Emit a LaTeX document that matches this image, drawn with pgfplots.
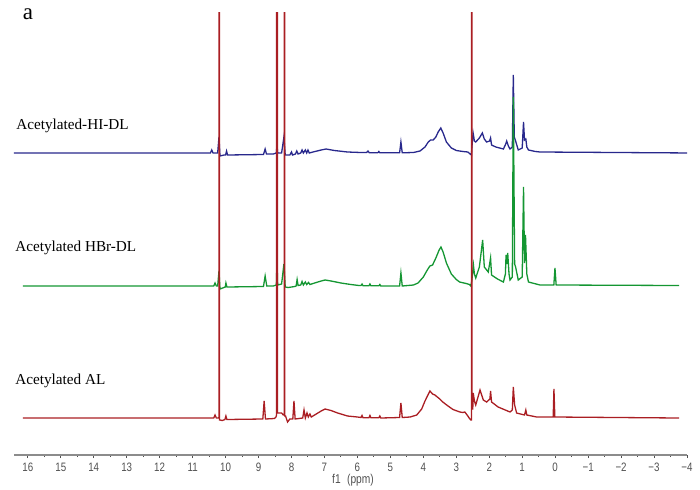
\documentclass[border=0pt]{standalone}
\usepackage{fontspec}
\setmainfont{Liberation Serif}
\newfontfamily\tickfont{Liberation Sans}[FakeStretch=0.8]
\usepackage{pgfplots}
\pgfplotsset{compat=1.18}
\definecolor{cblue}{RGB}{40,40,140}
\definecolor{cgreen}{RGB}{20,150,50}
\definecolor{cred}{RGB}{170,30,35}
\definecolor{caxis}{RGB}{140,140,140}
\definecolor{ctick}{RGB}{80,80,80}
\begin{document}
\begin{tikzpicture}
\path[use as bounding box] (0,0) rectangle (350pt,244.5pt);
\begin{axis}[
  at={(7pt,17pt)}, anchor=south west,
  scale only axis, width=336.5pt, height=221.5pt,
  xmin=-4, xmax=16.42, ymin=34, ymax=477,
  x dir=reverse,
  axis y line=none, axis x line*=bottom,
  axis line style={-, draw=caxis, line width=0.6pt},
  xtick={-4,...,16},
  xticklabels={−4,−3,−2,−1,0,1,2,3,4,5,6,7,8,9,10,11,12,13,14,15,16},
  minor x tick num=1,
  tick align=outside, tick pos=bottom,
  major tick length=1.6pt, minor tick length=1.1pt,
  every tick/.style={draw=ctick, line width=0.5pt},
  xticklabel style={font=\tickfont\fontsize{6.1}{6}\selectfont, text=ctick, inner sep=1pt, yshift=-1.2pt},
  clip=true,
]
\addplot[cblue, line width=0.65pt] coordinates {
(16.42,336) (10.46,336) (10.42,339) (10.38,336) (10.24,336) (10.20,352) (10.17,333) (10.05,334) (10.0,334) (9.97,338) (9.94,334) (8.85,334.5) (8.80,340) (8.76,335) (8.55,335) (8.46,336) (8.44,345) (8.42,336) (8.30,336) (8.23,352) (8.19,334) (8.05,334) (8.00,337) (7.97,334) (7.88,335) (7.84,338) (7.80,335) (7.72,336) (7.68,339) (7.64,336) (7.58,339) (7.54,336) (7.50,339) (7.46,336) (7.35,337) (7.1,339) (6.95,340) (6.7,338.5) (6.3,337) (5.9,336.5) (5.72,336.5) (5.68,338) (5.64,336.3) (5.38,336.3) (5.35,337.5) (5.32,336.2) (4.72,336.2) (4.68,347) (4.64,336.2) (4.3,336.5) (4.1,338) (3.95,342) (3.85,347) (3.78,349) (3.70,349) (3.62,352) (3.55,357) (3.47,361) (3.40,356) (3.30,347) (3.15,341) (3.0,338.5) (2.8,337.5) (2.65,337) (2.58,335) (2.54,334) (2.53,340) (2.49,356) (2.45,348) (2.41,347) (2.30,351) (2.21,356) (2.15,350) (2.08,347) (1.99,348) (1.96,351) (1.93,344) (1.80,342) (1.57,340) (1.50,345) (1.47,348) (1.42,343) (1.37,340) (1.30,342) (1.27,414) (1.24,352) (1.20,348) (1.12,339) (1.00,341) (0.96,367) (0.93,349) (0.89,350) (0.86,342) (0.81,339) (0.6,337.5) (0.46,337) (-4.2,336)
};
\addplot[cgreen, line width=0.65pt] coordinates {
(16.15,203) (10.36,203) (10.32,206) (10.28,203) (10.24,203) (10.20,218) (10.17,200) (10.05,201.5) (10.01,202) (9.99,206) (9.96,202) (8.85,202.5) (8.80,213) (8.75,203) (8.55,203) (8.46,204) (8.44,230) (8.42,204) (8.30,205) (8.23,225) (8.19,202) (8.10,201.5) (7.9,202.5) (7.86,203) (7.83,209.5) (7.80,203.5) (7.72,204) (7.68,207.5) (7.64,204) (7.58,207) (7.54,204.5) (7.48,206.5) (7.44,204.5) (7.3,206) (7.1,208) (6.98,209) (6.8,208) (6.5,206) (6.2,204.5) (5.95,203.5) (5.89,203.5) (5.86,205) (5.83,203.3) (5.65,203.3) (5.62,205) (5.59,203.2) (5.35,203.2) (5.32,204.5) (5.29,203) (4.72,203) (4.68,216) (4.64,203) (4.3,204) (4.16,206) (4.0,212) (3.88,219) (3.80,223) (3.72,224) (3.62,231) (3.52,239) (3.465,242) (3.40,237) (3.30,226) (3.15,215) (3.0,209.5) (2.9,207) (2.7,205.5) (2.6,204.5) (2.56,203) (2.53,208) (2.48,224) (2.45,215) (2.41,211) (2.30,222) (2.20,249) (2.15,222) (2.03,217) (1.96,231) (1.93,214) (1.75,210) (1.57,207) (1.51,215) (1.49,234) (1.46,225) (1.44,236) (1.40,215) (1.37,209) (1.30,212) (1.27,392) (1.23,225) (1.20,222) (1.12,209) (1.00,212) (0.96,302) (0.93,226) (0.90,254) (0.86,215) (0.81,207) (0.46,204) (0.04,204) (0.006,221) (-0.03,204) (-3.76,203.5)
};
\addplot[cred, line width=0.65pt] coordinates {
(16.15,71) (10.36,71) (10.32,74) (10.28,71) (10.22,71) (10.198,72) (10.198,490) (10.186,490) (10.186,69) (10.17,69) (10.1,68.5) (10.02,69.5) (9.99,73) (9.96,69.5) (8.87,70) (8.83,88) (8.79,70) (8.52,70.5) (8.47,72) (8.455,74) (8.455,490) (8.425,490) (8.425,76) (8.41,76) (8.30,76) (8.25,74) (8.222,74) (8.222,490) (8.203,490) (8.203,73) (8.18,73) (8.12,67) (8.05,70) (7.96,70) (7.925,88) (7.89,70) (7.66,71) (7.62,79) (7.58,71) (7.53,76) (7.49,72) (7.44,75) (7.40,72) (7.3,74) (7.1,78) (6.98,80) (6.8,78.5) (6.6,76) (6.3,73) (6.0,72) (5.89,71.5) (5.86,73.5) (5.83,71.3) (5.65,71.3) (5.62,73.5) (5.59,71.2) (5.35,71.2) (5.32,73) (5.29,71) (4.72,71.5) (4.68,86) (4.64,71.5) (4.4,72) (4.2,74) (4.05,80) (3.95,88) (3.80,98) (3.72,95) (3.65,94) (3.5,90) (3.41,87) (3.25,83) (3.1,79.5) (2.89,77) (2.80,76.5) (2.74,77) (2.65,73) (2.61,71) (2.56,69) (2.541,69) (2.541,490) (2.522,490) (2.522,80) (2.50,80) (2.485,96) (2.45,88) (2.41,84) (2.28,99) (2.18,89) (2.08,87) (1.98,90) (1.96,98) (1.93,87) (1.73,82) (1.37,77) (1.30,79) (1.27,102) (1.23,84) (1.17,76) (0.93,74) (0.89,79) (0.86,74) (0.56,72) (0.06,72) (0.037,100) (0.01,72) (-3.76,71)
};
\end{axis}
\node[font=\fontsize{11.5}{12}\selectfont, inner sep=0pt] at (14pt,237.5pt) {a};
\node[font=\fontsize{7.6}{8}\selectfont, anchor=west, inner sep=0pt] at (8pt,181.5pt) {Acetylated-HI-DL};
\node[font=\fontsize{7.6}{8}\selectfont, anchor=west, inner sep=0pt] at (7.5pt,120.5pt) {Acetylated HBr-DL};
\node[font=\fontsize{7.6}{8}\selectfont, anchor=west, inner sep=0pt] at (7.5pt,54pt) {Acetylated AL};
\node[font=\tickfont\fontsize{6.4}{7}\selectfont, text=ctick, inner sep=0pt] at (176.5pt,4.2pt) {f1\enspace(ppm)};
\end{tikzpicture}
\end{document}
